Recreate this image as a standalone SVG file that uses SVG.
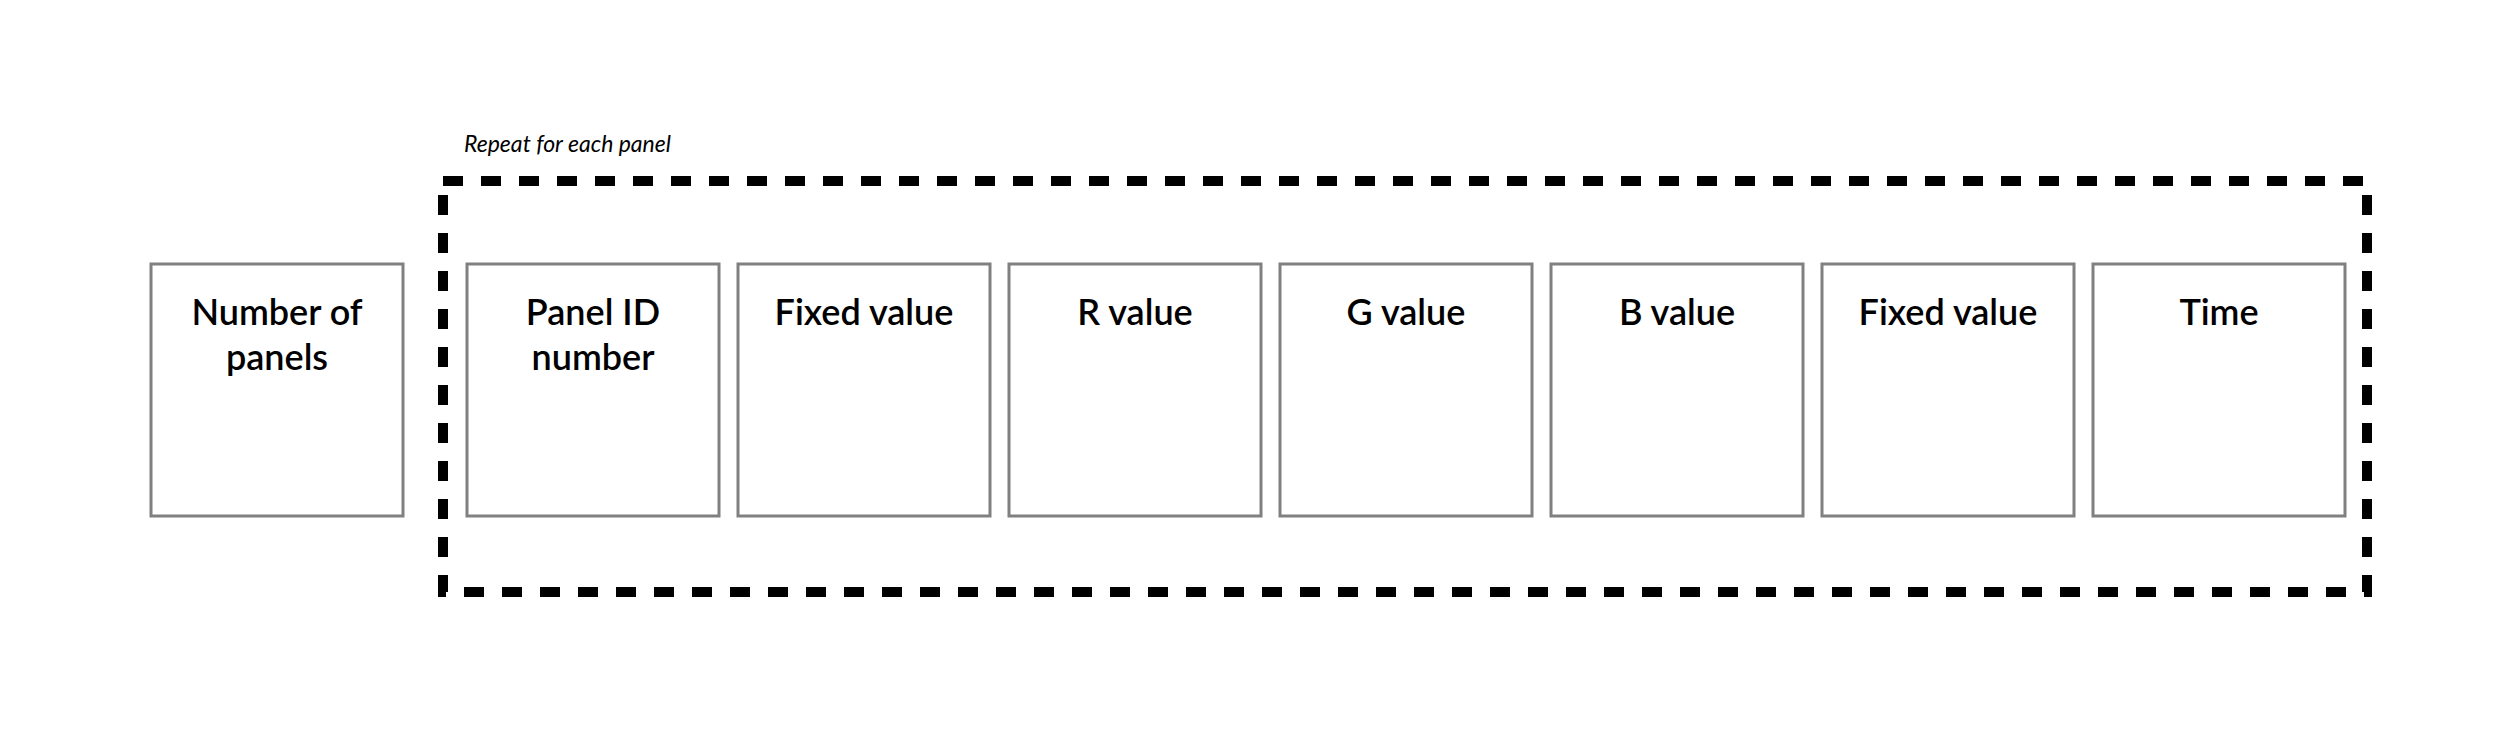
<svg xmlns="http://www.w3.org/2000/svg" width="2500" height="735" viewBox="0 0 2500 735">
<style>
.b{fill:#fff;stroke:#808080;stroke-width:3}
.t{font-family:Lato,"Open Sans",sans-serif;font-size:36px;font-weight:600;fill:#000;text-anchor:middle}
.l{font-family:Lato,"Open Sans",sans-serif;font-size:23px;font-style:italic;fill:#000}
</style>
<rect width="2500" height="735" fill="#fff"/>
<g id="connectors"></g>
<g id="repeat">
<rect x="443" y="181" width="1924" height="411" fill="none" stroke="#000" stroke-width="10" stroke-dasharray="20 18"/>
<text class="l" x="464" y="152">Repeat for each panel</text>
</g>
<g id="n0"><rect class="b" x="151" y="264" width="252" height="252"/><text class="t" x="277" y="325">Number of</text><text class="t" x="277" y="370">panels</text></g>
<g id="n1"><rect class="b" x="467" y="264" width="252" height="252"/><text class="t" x="593" y="325">Panel ID</text><text class="t" x="593" y="370">number</text></g>
<g id="n2"><rect class="b" x="738" y="264" width="252" height="252"/><text class="t" x="864" y="325">Fixed value</text></g>
<g id="n3"><rect class="b" x="1009" y="264" width="252" height="252"/><text class="t" x="1135" y="325">R value</text></g>
<g id="n4"><rect class="b" x="1280" y="264" width="252" height="252"/><text class="t" x="1406" y="325">G value</text></g>
<g id="n5"><rect class="b" x="1551" y="264" width="252" height="252"/><text class="t" x="1677" y="325">B value</text></g>
<g id="n6"><rect class="b" x="1822" y="264" width="252" height="252"/><text class="t" x="1948" y="325">Fixed value</text></g>
<g id="n7"><rect class="b" x="2093" y="264" width="252" height="252"/><text class="t" x="2219" y="325">Time</text></g>
</svg>
